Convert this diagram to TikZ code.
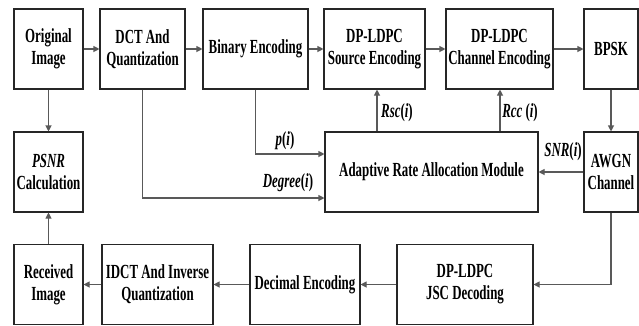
\documentclass[tikz,border=0pt]{standalone}
\usepackage{fontspec}
\setmainfont[FakeStretch=0.645]{Liberation Serif}
\usetikzlibrary{arrows.meta,calc}
\begin{document}
\begin{tikzpicture}[x=1pt,y=-1pt,
  box/.style={draw=black!85,line width=1.1pt,rectangle,inner sep=0pt,minimum height=80pt,align=center,
    font=\fontsize{20}{22}\selectfont\bfseries},
  arr/.style={draw=black!65,line width=1.1pt,-{Triangle[length=6pt,width=6pt]}},
  lab/.style={font=\fontsize{20}{22}\selectfont\bfseries\itshape,inner sep=0pt}]
\useasboundingbox (0,0) rectangle (639,325);
\node[box,minimum width=69pt] (orig) at (48.5,49) {Original\\Image};
\node[box,minimum width=85pt] (dct) at (142.5,49) {DCT And\\Quantization};
\node[box,minimum width=105pt] (bin) at (255.5,49) {Binary Encoding};
\node[box,minimum width=101pt] (src) at (374.5,49) {DP-LDPC\\Source Encoding};
\node[box,minimum width=107pt] (chn) at (499.5,49) {DP-LDPC\\Channel Encoding};
\node[box,minimum width=54pt] (bpsk) at (611,49) {BPSK};
\node[box,minimum width=69pt] (psnr) at (48.5,172) {\textit{PSNR}\\Calculation};
\node[box,minimum width=213pt] (aram) at (431.5,172) {Adaptive Rate Allocation Module};
\node[box,minimum width=54pt] (awgn) at (611,172) {AWGN\\Channel};
\node[box,minimum width=69pt] (recv) at (48.5,284.5) {Received\\Image};
\node[box,minimum width=111pt] (idct) at (157.5,284.5) {IDCT And Inverse\\Quantization};
\node[box,minimum width=110pt] (dec) at (305,284.5) {Decimal Encoding};
\node[box,minimum width=136pt] (jsc) at (465,284.5) {DP-LDPC\\JSC Decoding};
\coordinate (xr) at (377,0);
\coordinate (xc) at (500,0);
\coordinate (yp) at (0,154);
\coordinate (yd) at (0,198);
\draw[arr] (orig) -- (dct);
\draw[arr] (dct) -- (bin);
\draw[arr] (bin) -- (src);
\draw[arr] (src) -- (chn);
\draw[arr] (chn) -- (bpsk);
\draw[arr] (orig) -- (psnr);
\draw[arr] (bpsk) -- (awgn);
\draw[arr] (bin.south) |- (aram.west |- yp);
\draw[arr] (dct.south) |- (aram.west |- yd);
\draw[arr] (aram.north -| xr) -- (src.south -| xr);
\draw[arr] (aram.north -| xc) -- (chn.south -| xc);
\draw[arr] (awgn) -- (aram);
\draw[arr] (awgn.south) |- (jsc.east);
\draw[arr] (jsc) -- (dec);
\draw[arr] (dec) -- (idct);
\draw[arr] (idct) -- (recv);
\draw[arr] (recv) -- (psnr);
\node[lab] (lp) at (285,141) {p\textup{(}i\textup{)}};
\node[lab] (ld) at (288,183) {Degree\textup{(}i\textup{)}};
\node[lab] (lr) at (397,113) {Rsc\textup{(}i\textup{)}};
\node[lab] (lc) at (520,113) {Rcc \textup{(}i\textup{)}};
\node[lab] (ls) at (563,152) {SNR\textup{(}i\textup{)}};
\end{tikzpicture}
\end{document}
